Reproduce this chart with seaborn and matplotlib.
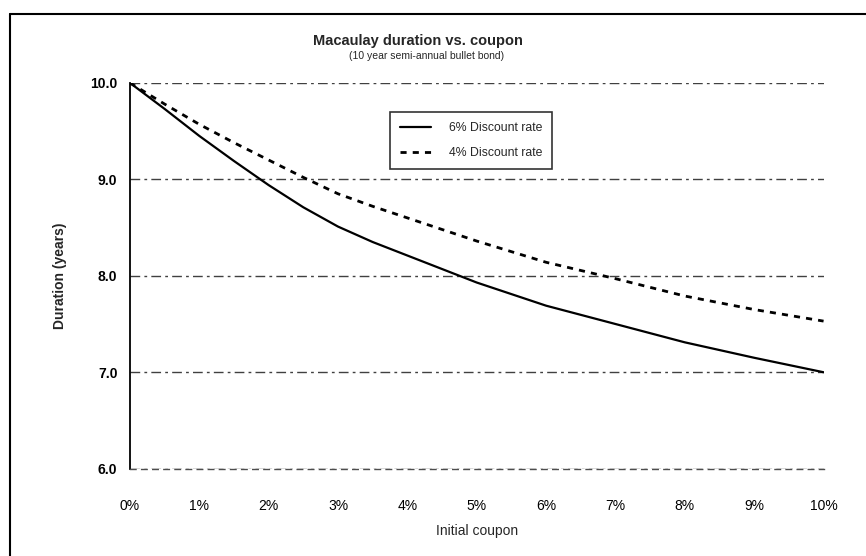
import matplotlib
matplotlib.use("Agg")
import matplotlib.pyplot as plt
from matplotlib.lines import Line2D
import seaborn as sns
import pandas as pd

coupon = [0, 0.5, 1, 1.5, 2, 2.5, 3, 3.5, 4, 5, 6, 7, 8, 9, 10]
dur_6pct = [10.0, 9.73, 9.45, 9.19, 8.94, 8.71, 8.51, 8.35, 8.21, 7.93, 7.69, 7.50, 7.31, 7.15, 7.00]
dur_4pct = [10.0, 9.78, 9.57, 9.38, 9.20, 9.02, 8.85, 8.72, 8.60, 8.36, 8.14, 7.97, 7.79, 7.65, 7.53]
series_labels = ["6% Discount rate", "4% Discount rate"]
x_ticks = [0, 1, 2, 3, 4, 5, 6, 7, 8, 9, 10]
x_tick_labels = ["0%", "1%", "2%", "3%", "4%", "5%", "6%", "7%", "8%", "9%", "10%"]
y_ticks = [6.0, 7.0, 8.0, 9.0, 10.0]

sns.set_theme(style="white")
plt.rcParams["font.family"] = ["Liberation Sans", "DejaVu Sans"]

fig = plt.figure(figsize=(8.66, 5.56), dpi=100)
ax = fig.add_axes([0.150, 0.157, 0.801, 0.694])

df_a = pd.DataFrame({"coupon": coupon, "duration": dur_6pct})
df_b = pd.DataFrame({"coupon": coupon, "duration": dur_4pct})
sns.lineplot(data=df_a, x="coupon", y="duration", ax=ax, color="black",
             linewidth=1.6, label=series_labels[0])
sns.lineplot(data=df_b, x="coupon", y="duration", ax=ax, color="black",
             linewidth=2.0, linestyle=(0, (2.2, 2.2)), label=series_labels[1])

ax.set_xlim(0, 10)
ax.set_ylim(6.0, 10.0)
ax.set_xticks(x_ticks)
ax.set_xticklabels(x_tick_labels, fontsize=10)
ax.set_yticks(y_ticks)
ax.set_yticklabels([f"{v:.1f}" for v in y_ticks], fontsize=10, fontweight="bold")
ax.tick_params(axis="y", length=0, pad=9, colors="black")
ax.tick_params(axis="x", length=0, pad=22, colors="black")

ax.grid(axis="y", color="0.25", linestyle=(0, (7, 3, 2, 3)), linewidth=1.0)
ax.grid(axis="x", visible=False)
for s in ["top", "right"]:
    ax.spines[s].set_visible(False)
ax.spines["left"].set_color("black")
ax.spines["left"].set_linewidth(1.3)
ax.spines["bottom"].set_color("0.3")
ax.spines["bottom"].set_linestyle((0, (4, 4)))
ax.spines["bottom"].set_linewidth(1.0)

ax.set_xlabel("Initial coupon", fontsize=10, labelpad=8)
ax.set_ylabel("Duration (years)", fontsize=10, fontweight="bold", labelpad=17)

leg = ax.legend(loc="upper left", bbox_to_anchor=(0.366, 0.94), frameon=True,
                fontsize=8.8, handlelength=2.6, handletextpad=1.4,
                borderpad=0.8, labelspacing=1.1, fancybox=False)
leg.get_frame().set_edgecolor("black")
leg.get_frame().set_linewidth(1.2)

fig.text(0.483, 0.927, "Macaulay duration vs. coupon", ha="center", va="center",
         fontsize=10.5, fontweight="bold")
fig.text(0.493, 0.899, "(10 year semi-annual bullet bond)", ha="center", va="center",
         fontsize=7.5)

# figure frame (top and left edges as in the scanned page)
fig.add_artist(Line2D([10/866, 1.0], [1 - 14/556, 1 - 14/556], color="black",
                      linewidth=1.5, transform=fig.transFigure))
fig.add_artist(Line2D([10/866, 10/866], [0.0, 1 - 14/556], color="black",
                      linewidth=1.5, transform=fig.transFigure))

fig.savefig("out.png", dpi=100)
